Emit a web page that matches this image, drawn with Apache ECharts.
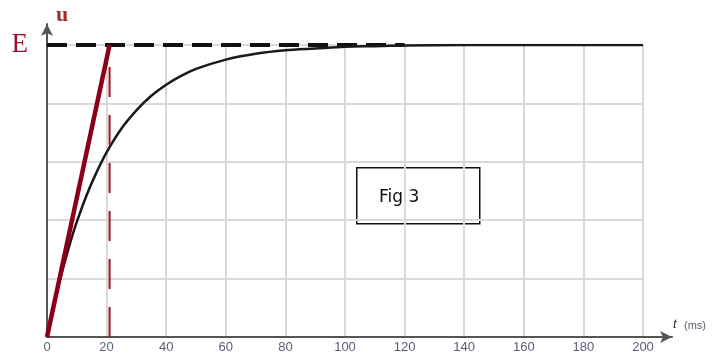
<!DOCTYPE html>
<html>
<head>
<meta charset="utf-8">
<script src="https://cdn.jsdelivr.net/npm/echarts@6/dist/echarts.min.js"></script>
<style>
html,body{margin:0;padding:0;background:#fff;}
#c{width:717px;height:356px;}
</style>
</head>
<body>
<div id="c"></div>
<script>
// Data (t in ms, u in grid units; E = 5 units)
var xTicks = [0, 20, 40, 60, 80, 100, 120, 140, 160, 180, 200];
var curveT = [0, 2, 5, 8, 10, 13, 16, 20, 25, 30, 35, 40, 45, 50, 60, 70, 80, 90, 100, 110, 120, 140, 160, 180, 200];
var curveU = [0, 0.47, 1.10, 1.65, 1.97, 2.39, 2.75, 3.16, 3.57, 3.88, 4.13, 4.32, 4.47, 4.59, 4.75, 4.85, 4.91, 4.94, 4.97, 4.98, 4.99, 5.0, 5.0, 5.0, 5.0];
var E = 5;
var dashedEndT = 120;
var tangentT = [0, 21];
var tangentU = [0, 5];
var tauT = 21;
var figLabel = 'Fig 3';

var curveData = curveT.map(function (t, i) { return [t, curveU[i]]; });
var tangentData = tangentT.map(function (t, i) { return [t, tangentU[i]]; });

var chart = echarts.init(document.getElementById('c'), null, {renderer: 'canvas'});
chart.setOption({
  animation: false,
  backgroundColor: '#fff',
  grid: [
    {left: 47, right: 74, top: 45, bottom: 19},
    {left: 47, right: 45, top: 24, bottom: 19}
  ],
  xAxis: [
    {
      gridIndex: 0, type: 'value', min: 0, max: 200, interval: 20,
      axisLine: {show: false}, axisTick: {show: false},
      splitLine: {show: true, lineStyle: {color: '#d9d9d9', width: 2}},
      axisLabel: {color: '#5b5b78', fontSize: 13, fontFamily: 'Liberation Sans, Arial, sans-serif', margin: 4,
        formatter: function (v) { return xTicks.indexOf(v) >= 0 ? String(v) : ''; }}
    },
    {
      gridIndex: 1, type: 'value', min: 0, max: 1,
      axisLine: {show: true, symbol: ['none', 'arrow'], symbolSize: [9, 12], lineStyle: {color: '#555', width: 2}},
      axisTick: {show: false}, axisLabel: {show: false}, splitLine: {show: false}
    }
  ],
  yAxis: [
    {
      gridIndex: 0, type: 'value', min: 0, max: 5, interval: 1,
      axisLine: {show: false}, axisTick: {show: false},
      splitLine: {show: true, lineStyle: {color: '#d9d9d9', width: 2}},
      axisLabel: {
        margin: 19, color: '#9b1030', fontSize: 27, fontFamily: 'Liberation Serif, DejaVu Serif, serif',
        padding: [0, 0, 10, 0],
        formatter: function (v) { return v === E ? 'E' : ''; }
      }
    },
    {
      gridIndex: 1, type: 'value', min: 0, max: 1,
      axisLine: {show: true, symbol: ['none', 'arrow'], symbolSize: [9, 12], lineStyle: {color: '#555', width: 2}},
      axisTick: {show: false}, axisLabel: {show: false}, splitLine: {show: false}
    }
  ],
  series: [
    {
      type: 'line', xAxisIndex: 0, yAxisIndex: 0, symbol: 'none', silent: true,
      data: [[0, E], [dashedEndT, E]],
      lineStyle: {color: '#111', width: 4, type: [20, 9]}
    },
    {
      type: 'line', xAxisIndex: 0, yAxisIndex: 0, symbol: 'none', smooth: 0.3, silent: true,
      data: curveData,
      lineStyle: {color: '#1a1a1a', width: 2.5}
    },
    {
      type: 'line', xAxisIndex: 0, yAxisIndex: 0, symbol: 'none', silent: true,
      data: [[tauT, 0], [tauT, E]],
      lineStyle: {color: '#a0102a', width: 2, type: [30, 18]}
    },
    {
      type: 'line', xAxisIndex: 0, yAxisIndex: 0, symbol: 'none', silent: true,
      data: tangentData,
      lineStyle: {color: '#8b0018', width: 4.5}
    }
  ],
  graphic: [
    {type: 'text', left: 56, top: 4, style: {text: 'u', fill: '#a3302a', font: 'bold 22px "Liberation Serif", serif'}},
    {type: 'text', left: 673, top: 318, style: {text: 't', fill: '#333', font: 'italic 13px "Liberation Sans", sans-serif'}},
    {type: 'text', left: 684, top: 320, style: {text: '(ms)', fill: '#5b5b78', font: '11px "Liberation Sans", sans-serif'}},
    {type: 'rect', left: 356, top: 167, shape: {width: 123, height: 56}, style: {fill: '#fff', stroke: '#111', lineWidth: 1.5}},
    {type: 'text', left: 379, top: 189, style: {text: figLabel, fill: '#111', font: '17px "DejaVu Sans", sans-serif'}}
  ]
});
</script>
</body>
</html>
